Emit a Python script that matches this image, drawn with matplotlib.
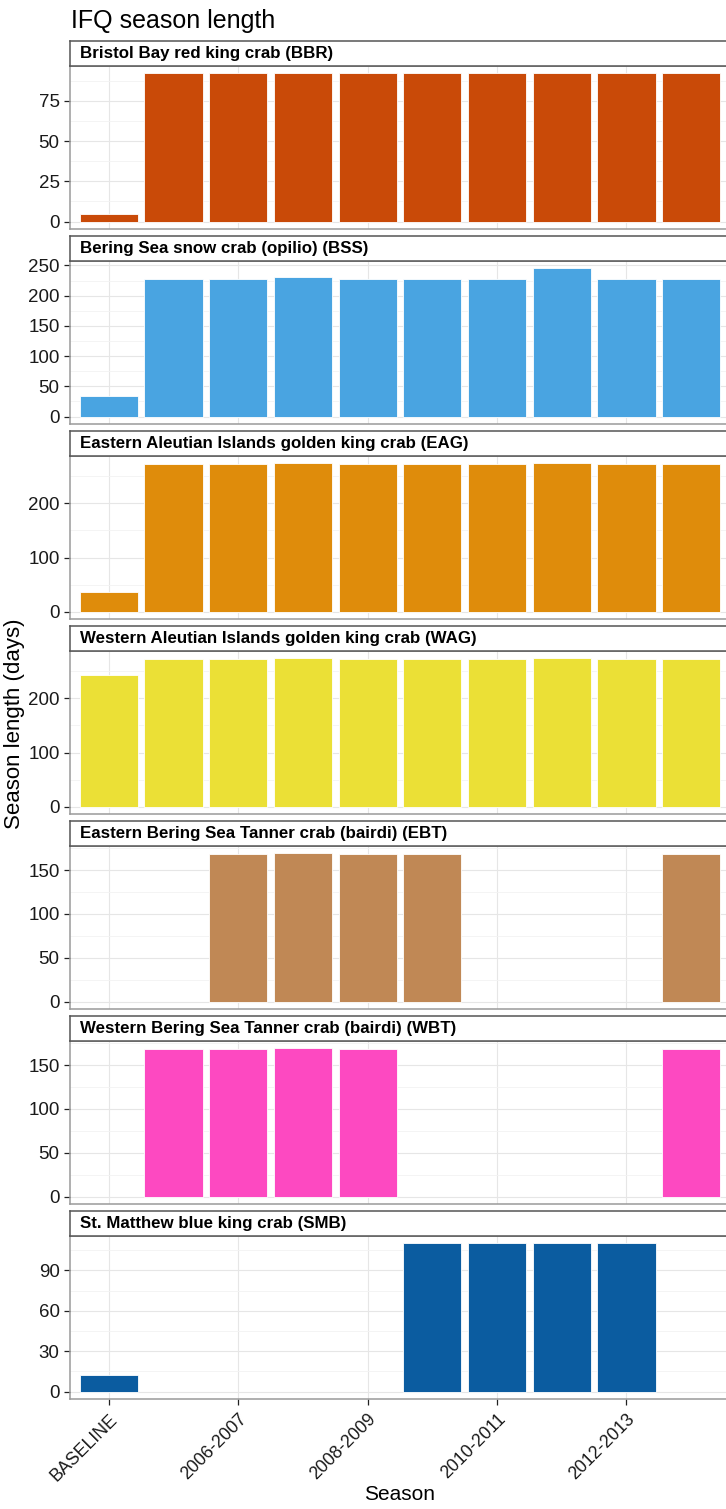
import matplotlib

matplotlib.use("Agg")
import matplotlib.pyplot as plt
import numpy as np

plt.rcParams["font.family"] = ["Liberation Sans", "DejaVu Sans"]

nan = np.nan

SEASONS = [
    "BASELINE", "2005-2006", "2006-2007", "2007-2008", "2008-2009",
    "2009-2010", "2010-2011", "2011-2012", "2012-2013", "2013-2014",
]
SHOWN_TICKS = ["BASELINE", "2006-2007", "2008-2009", "2010-2011", "2012-2013"]

FISHERIES = [
    "Bristol Bay red king crab (BBR)",
    "Bering Sea snow crab (opilio) (BSS)",
    "Eastern Aleutian Islands golden king crab (EAG)",
    "Western Aleutian Islands golden king crab (WAG)",
    "Eastern Bering Sea Tanner crab (bairdi) (EBT)",
    "Western Bering Sea Tanner crab (bairdi) (WBT)",
    "St. Matthew blue king crab (SMB)",
]

BBR = [4.6, 92, 92, 92, 92, 92, 92, 92, 92, 92]
BSS = [34, 228, 228, 230, 228, 228, 228, 245, 228, 228]
EAG = [36, 273, 273, 274, 273, 273, 273, 274, 273, 273]
WAG = [244, 273, 273, 274, 273, 273, 273, 274, 273, 273]
EBT = [nan, nan, 168, 169, 168, 168, nan, nan, nan, 168]
WBT = [nan, 168, 168, 169, 168, nan, nan, nan, nan, 168]
SMB = [12, nan, nan, nan, nan, 110, 110, 110, 110, nan]

VALUES = [BBR, BSS, EAG, WAG, EBT, WBT, SMB]

Y_TICKS = [
    [0, 25, 50, 75],
    [0, 50, 100, 150, 200, 250],
    [0, 100, 200],
    [0, 100, 200],
    [0, 50, 100, 150],
    [0, 50, 100, 150],
    [0, 30, 60, 90],
]

COLORS = ["#C94A08", "#49A4E1", "#DF8C0B", "#EBE036", "#C08855", "#FD49C1", "#0B5CA0"]

W, H = 726, 1509
LEFT, AX_W = 70, 660
TOP0, PERIOD, STRIP_H, PLOT_H = 41, 195, 25, 163


def add_panel(fig, i, name, vals, yticks, color, last):
    strip_top = TOP0 + PERIOD * i
    strip_bot = strip_top + STRIP_H
    plot_bot = strip_bot + PLOT_H

    ax = fig.add_axes([LEFT / W, 1 - plot_bot / H, AX_W / W, PLOT_H / H])
    vals = np.array(vals, dtype=float)
    x = np.arange(1, len(SEASONS) + 1)
    ok = ~np.isnan(vals)
    ax.bar(x[ok], vals[ok], width=0.9, color=color, edgecolor="white",
           linewidth=0.6, zorder=3)

    vmax = np.nanmax(vals)
    ax.set_ylim(-0.05 * vmax, 1.05 * vmax)
    ax.set_xlim(0.4, len(SEASONS) + 0.6)

    ax.set_yticks(yticks)
    step = yticks[1] - yticks[0]
    minors = [t + step / 2 for t in yticks if t + step / 2 < 1.05 * vmax]
    ax.set_yticks(minors, minor=True)
    tick_x = [SEASONS.index(s) + 1 for s in SHOWN_TICKS]
    ax.set_xticks(tick_x)

    ax.grid(True, which="major", color="#e6e6e6", linewidth=0.8, zorder=0)
    ax.grid(True, which="minor", axis="y", color="#f3f3f3", linewidth=0.6, zorder=0)
    ax.set_axisbelow(True)

    ax.tick_params(axis="y", which="major", length=4.5, width=0.9, color="#222222",
                   labelsize=13.5, labelcolor="#1a1a1a", pad=3)
    ax.tick_params(axis="y", which="minor", length=0)
    if last:
        ax.set_xticklabels(SHOWN_TICKS, rotation=45, ha="right", va="top",
                           rotation_mode="anchor", fontsize=12.8, color="#1a1a1a")
        ax.tick_params(axis="x", length=4.5, width=0.9, color="#222222", pad=4)
    else:
        ax.tick_params(axis="x", length=0, labelbottom=False)

    for sp in ax.spines.values():
        sp.set_color("#9a9a9a")
        sp.set_linewidth(1.1)

    sax = fig.add_axes([LEFT / W, 1 - strip_bot / H, AX_W / W, STRIP_H / H])
    sax.set_xticks([])
    sax.set_yticks([])
    sax.set_facecolor("white")
    for sp in sax.spines.values():
        sp.set_color("#555555")
        sp.set_linewidth(1.1)
    sax.text(10 / AX_W, 0.5, name, transform=sax.transAxes, ha="left", va="center",
             fontsize=12.2, fontweight="bold", color="black")


fig = plt.figure(figsize=(W / 100, H / 100), dpi=100)

for i, (name, vals, yt, c) in enumerate(zip(FISHERIES, VALUES, Y_TICKS, COLORS)):
    add_panel(fig, i, name, vals, yt, c, i == len(FISHERIES) - 1)

fig.text(71 / W, 1 - 28 / H, "IFQ season length", ha="left", va="baseline",
         fontsize=18, color="black")
fig.text(15 / W, 1 - 724 / H, "Season length (days)", rotation=90, ha="center",
         va="center", fontsize=16, color="black")
fig.text(400 / W, 1 - 1494 / H, "Season", ha="center", va="center",
         fontsize=15, color="black")

fig.savefig("out.png", dpi=100)
plt.close(fig)
